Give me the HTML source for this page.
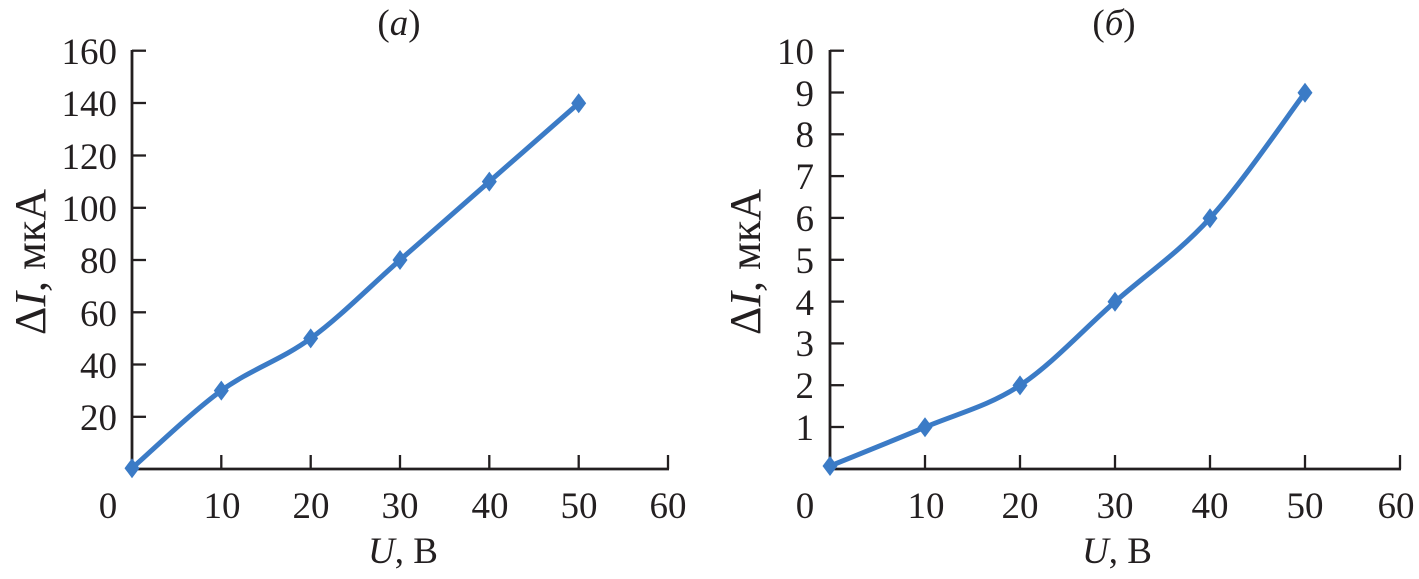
<!DOCTYPE html>
<html>
<head>
<meta charset="utf-8">
<style>
  html, body { margin: 0; padding: 0; background: #ffffff; }
  svg { display: block; }
  text { font-family: "Liberation Serif", "DejaVu Serif", serif; fill: #231f20; }
</style>
</head>
<body>
<svg width="1419" height="579" viewBox="0 0 1419 579" xmlns="http://www.w3.org/2000/svg">
  <rect x="0" y="0" width="1419" height="579" fill="#ffffff"/>

  <!-- ============ LEFT CHART (a) ============ -->
  <g stroke="#231f20" stroke-width="2.8" fill="none">
    <line x1="132" y1="50" x2="132" y2="470"/>
    <line x1="131" y1="469" x2="669" y2="469"/>
  </g>
  <g stroke="#231f20" stroke-width="2.3">
    <line x1="132" y1="50.7" x2="146" y2="50.7"/>
    <line x1="132" y1="103" x2="146" y2="103"/>
    <line x1="132" y1="155.5" x2="146" y2="155.5"/>
    <line x1="132" y1="207.8" x2="146" y2="207.8"/>
    <line x1="132" y1="260" x2="146" y2="260"/>
    <line x1="132" y1="312.3" x2="146" y2="312.3"/>
    <line x1="132" y1="364.5" x2="146" y2="364.5"/>
    <line x1="132" y1="416.8" x2="146" y2="416.8"/>
    <line x1="221.3" y1="455" x2="221.3" y2="469"/>
    <line x1="310.7" y1="455" x2="310.7" y2="469"/>
    <line x1="400" y1="455" x2="400" y2="469"/>
    <line x1="489.3" y1="455" x2="489.3" y2="469"/>
    <line x1="578.7" y1="455" x2="578.7" y2="469"/>
    <line x1="668" y1="455" x2="668" y2="469"/>
  </g>
  <g font-size="37" text-anchor="end">
    <text x="117" y="64">160</text>
    <text x="117" y="116">140</text>
    <text x="117" y="169">120</text>
    <text x="117" y="221">100</text>
    <text x="117" y="273">80</text>
    <text x="117" y="326">60</text>
    <text x="117" y="378">40</text>
    <text x="117" y="430">20</text>
  </g>
  <g font-size="37" text-anchor="middle">
    <text x="108" y="518">0</text>
    <text x="222" y="518">10</text>
    <text x="311" y="518">20</text>
    <text x="400" y="518">30</text>
    <text x="490" y="518">40</text>
    <text x="579" y="518">50</text>
    <text x="668" y="518">60</text>
  </g>
  <text x="399" y="35" font-size="37" text-anchor="middle">(<tspan font-style="italic">а</tspan>)</text>
  <text x="403" y="563" font-size="37" text-anchor="middle"><tspan font-style="italic">U</tspan>, В</text>
  <text transform="translate(45,262) rotate(-90)" font-size="44" text-anchor="middle">Δ<tspan font-style="italic">I</tspan>, мкА</text>

  <path d="M132,468.2 C146.9,455.3 191.5,412.2 221.3,390.6 C251.1,369.0 280.9,360.2 310.7,338.4 C340.5,316.6 370.2,286.1 400,260 C429.8,233.9 459.5,207.7 489.3,181.6 C519.1,155.5 563.8,116.3 578.7,103.25"
        fill="none" stroke="#3b7bc6" stroke-width="5" stroke-linejoin="round" stroke-linecap="round"/>
  <g fill="#3b7bc6">
    <polygon points="132,458.2 139.5,468.2 132,478.2 124.5,468.2"/>
    <polygon points="221.3,380.6 228.8,390.6 221.3,400.6 213.8,390.6"/>
    <polygon points="310.7,328.4 318.2,338.4 310.7,348.4 303.2,338.4"/>
    <polygon points="400,250 407.5,260 400,270 392.5,260"/>
    <polygon points="489.3,171.6 496.8,181.6 489.3,191.6 481.8,181.6"/>
    <polygon points="578.7,93.25 586.2,103.25 578.7,113.25 571.2,103.25"/>
  </g>

  <!-- ============ RIGHT CHART (б) ============ -->
  <g stroke="#231f20" stroke-width="2.8" fill="none">
    <line x1="830" y1="50" x2="830" y2="470"/>
    <line x1="829" y1="469" x2="1401" y2="469"/>
  </g>
  <g stroke="#231f20" stroke-width="2.3">
    <line x1="830" y1="50.7" x2="844" y2="50.7"/>
    <line x1="830" y1="92.5" x2="844" y2="92.5"/>
    <line x1="830" y1="134.3" x2="844" y2="134.3"/>
    <line x1="830" y1="176.1" x2="844" y2="176.1"/>
    <line x1="830" y1="217.9" x2="844" y2="217.9"/>
    <line x1="830" y1="259.8" x2="844" y2="259.8"/>
    <line x1="830" y1="301.6" x2="844" y2="301.6"/>
    <line x1="830" y1="343.4" x2="844" y2="343.4"/>
    <line x1="830" y1="385.2" x2="844" y2="385.2"/>
    <line x1="830" y1="427" x2="844" y2="427"/>
    <line x1="925" y1="455" x2="925" y2="469"/>
    <line x1="1020" y1="455" x2="1020" y2="469"/>
    <line x1="1115" y1="455" x2="1115" y2="469"/>
    <line x1="1210" y1="455" x2="1210" y2="469"/>
    <line x1="1305" y1="455" x2="1305" y2="469"/>
    <line x1="1400" y1="455" x2="1400" y2="469"/>
  </g>
  <g font-size="37" text-anchor="end">
    <text x="814" y="64">10</text>
    <text x="814" y="106">9</text>
    <text x="814" y="147">8</text>
    <text x="814" y="189">7</text>
    <text x="814" y="231">6</text>
    <text x="814" y="273">5</text>
    <text x="814" y="315">4</text>
    <text x="814" y="356">3</text>
    <text x="814" y="398">2</text>
    <text x="814" y="440">1</text>
  </g>
  <g font-size="37" text-anchor="middle">
    <text x="805" y="518">0</text>
    <text x="926" y="518">10</text>
    <text x="1020" y="518">20</text>
    <text x="1115" y="518">30</text>
    <text x="1210" y="518">40</text>
    <text x="1305" y="518">50</text>
    <text x="1396" y="518">60</text>
  </g>
  <text x="1114" y="35" font-size="37" text-anchor="middle">(<tspan font-style="italic">б</tspan>)</text>
  <text x="1117" y="563" font-size="37" text-anchor="middle"><tspan font-style="italic">U</tspan>, В</text>
  <text transform="translate(760,262) rotate(-90)" font-size="44" text-anchor="middle">Δ<tspan font-style="italic">I</tspan>, мкА</text>

  <path d="M830,466 C845.8,459.5 893.3,440.6 925,427.2 C956.7,413.8 988.3,406.3 1020,385.4 C1051.7,364.5 1083.3,329.7 1115,301.8 C1146.7,273.9 1178.3,253.0 1210,218.2 C1241.7,183.4 1289.2,113.7 1305,92.8"
        fill="none" stroke="#3b7bc6" stroke-width="5" stroke-linejoin="round" stroke-linecap="round"/>
  <g fill="#3b7bc6">
    <polygon points="830,456 837.5,466 830,476 822.5,466"/>
    <polygon points="925,417.2 932.5,427.2 925,437.2 917.5,427.2"/>
    <polygon points="1020,375.4 1027.5,385.4 1020,395.4 1012.5,385.4"/>
    <polygon points="1115,291.8 1122.5,301.8 1115,311.8 1107.5,301.8"/>
    <polygon points="1210,208.2 1217.5,218.2 1210,228.2 1202.5,218.2"/>
    <polygon points="1305,82.8 1312.5,92.8 1305,102.8 1297.5,92.8"/>
  </g>
</svg>
</body>
</html>
